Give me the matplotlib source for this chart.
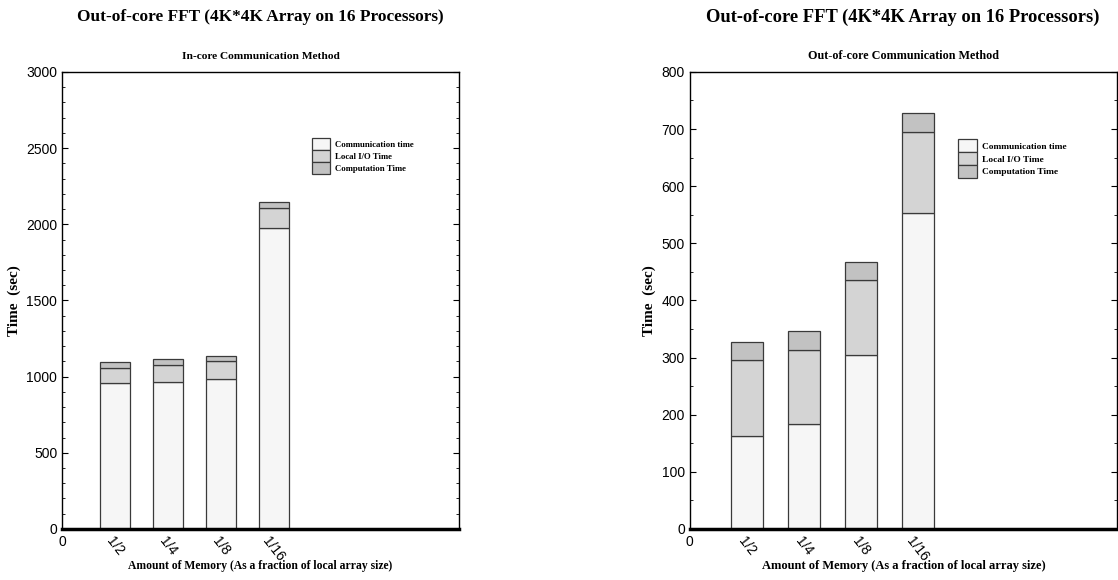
import matplotlib
matplotlib.use('Agg')
import matplotlib.pyplot as plt
from matplotlib.ticker import MultipleLocator

# fractions of local array size (x positions 1..4)
fractions = ['1/2', '1/4', '1/8', '1/16']

# in-core communication method (sec)
incore_comm = [958, 967, 985, 1976]
incore_io = [99, 110, 116, 134]
incore_comp = [37, 37, 35, 37]

# out-of-core communication method (sec)
ooc_comm = [162, 184, 305, 553]
ooc_io = [133, 129, 130, 142]
ooc_comp = [33, 33, 33, 33]

series_names = ['Communication time', 'Local I/O Time', 'Computation Time']
colors = ['#f6f6f6', '#d4d4d4', '#c2c2c2']

serif = 'Liberation Serif'
sans = 'Liberation Sans'


def draw_panel(ax, comm, io, comp, subtitle, ymax, minor, leg_anchor, scale):
    x = list(range(1, len(fractions) + 1))
    bottom_io = comm
    bottom_comp = [a + b for a, b in zip(comm, io)]
    kw = dict(width=0.56, edgecolor='#3a3a3a', linewidth=0.9, zorder=2)
    b1 = ax.bar(x, comm, color=colors[0], **kw)
    b2 = ax.bar(x, io, bottom=bottom_io, color=colors[1], **kw)
    b3 = ax.bar(x, comp, bottom=bottom_comp, color=colors[2], **kw)

    ax.set_xlim(0, 7.5)
    ax.set_ylim(0, ymax)
    ax.yaxis.set_minor_locator(MultipleLocator(minor))
    ax.tick_params(axis='y', which='both', direction='in', left=True, right=True,
                   labelsize=10)
    ax.tick_params(axis='y', which='major', length=4)
    ax.tick_params(axis='y', which='minor', length=2.5)
    for lab in ax.get_yticklabels():
        lab.set_fontfamily(sans)

    ax.set_xticks([0] + x)
    ax.set_xticklabels(['0'] + fractions)
    ax.tick_params(axis='x', length=0, pad=4, labelsize=10)
    for i, lab in enumerate(ax.get_xticklabels()):
        lab.set_fontfamily(sans)
        if i > 0:
            lab.set_rotation(-52)
            lab.set_ha('center')

    ax.spines['bottom'].set_linewidth(2.5)
    for s in ['top', 'left', 'right']:
        ax.spines[s].set_linewidth(1.0)

    ax.set_title(subtitle, fontfamily=serif, fontweight='bold', fontsize=8.2 * scale, pad=9)
    ax.set_ylabel('Time  (sec)', fontfamily=serif, fontweight='bold', fontsize=11)
    ax.set_xlabel('Amount of Memory (As a fraction of local array size)',
                  fontfamily=serif, fontweight='bold', fontsize=8.4 * scale, labelpad=-3)

    ax.legend([b1, b2, b3], series_names, loc='upper left', bbox_to_anchor=leg_anchor,
              frameon=False, borderpad=0, borderaxespad=0, labelspacing=0,
              handlelength=2.0, handleheight=1.75, handletextpad=0.6,
              prop={'family': serif, 'weight': 'bold', 'size': 6.3 * scale})


fig = plt.figure(figsize=(11.18, 5.8), dpi=100)
ax1 = fig.add_axes([0.0555, 0.088, 0.355, 0.788])
ax2 = fig.add_axes([0.617, 0.088, 0.382, 0.788])

draw_panel(ax1, incore_comm, incore_io, incore_comp, 'In-core Communication Method',
           3000, 100, (0.63, 0.856), 1.0)
draw_panel(ax2, ooc_comm, ooc_io, ooc_comp, 'Out-of-core Communication Method',
           800, 50, (0.628, 0.853), 1.07)

main_title = 'Out-of-core FFT (4K*4K Array on 16 Processors)'
fig.text(0.2330, 0.970, main_title, ha='center', va='center',
         fontfamily=serif, fontweight='bold', fontsize=12.4)
fig.text(0.8077, 0.970, main_title, ha='center', va='center',
         fontfamily=serif, fontweight='bold', fontsize=13.3)

fig.savefig('out.png', dpi=100)
plt.close(fig)
